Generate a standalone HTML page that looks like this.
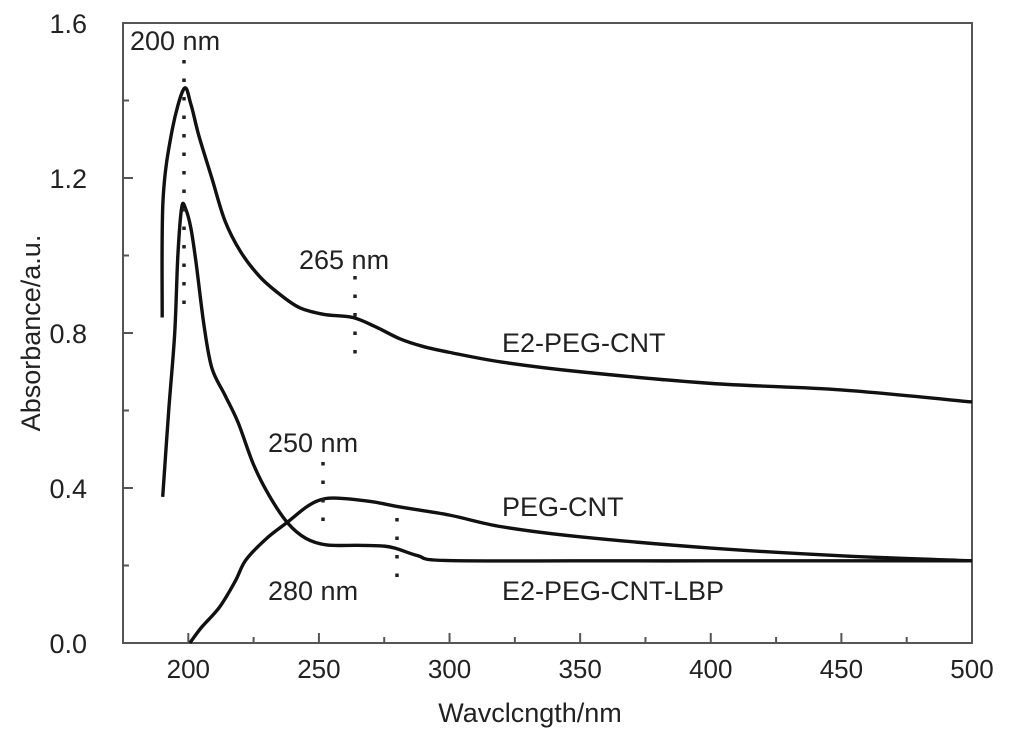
<!DOCTYPE html>
<html><head><meta charset="utf-8"><style>
body{margin:0;background:#fff}
svg{display:block;font-family:"Liberation Sans",sans-serif}
</style></head><body>
<svg id="c" width="1009" height="743" viewBox="0 0 1009 743"></svg>
<script>
const xTicks=[200,250,300,350,400,450,500];
const yTicks=[0.0,0.4,0.8,1.2,1.6];
const yTickLabels=["0.0","0.4","0.8","1.2","1.6"];
const e2pegX=[190,190.3,193.6,198.3,201,204,209,214,220,227.4,235,242.7,252,263,272,281,290,300,320,350,400,450,500];
const e2pegY=[0.84,1.14,1.316,1.43,1.39,1.31,1.2,1.09,1.01,0.945,0.9,0.865,0.848,0.84,0.815,0.785,0.765,0.75,0.725,0.70,0.67,0.653,0.622];
const lbpX=[190.2,192.5,194.8,196,197.5,199,201,203,206,209,214,219,225,231,238,245,253,265,275,280,288,298,350,400,450,500];
const lbpY=[0.377,0.6,0.8,1.0,1.125,1.12,1.07,0.98,0.82,0.71,0.64,0.57,0.46,0.38,0.31,0.27,0.253,0.252,0.25,0.243,0.225,0.213,0.212,0.212,0.212,0.212];
const pegX=[200.6,205,212,218,222,230,238,245,250,256,270,281,300,320,350,400,450,500];
const pegY=[0.0,0.04,0.093,0.16,0.214,0.27,0.312,0.35,0.368,0.374,0.365,0.351,0.33,0.3,0.274,0.245,0.225,0.212];
const X0=175,X1=500,Y0=0,Y1=1.6,L=123,R=972,T=23,B=643;
const sx=v=>L+(v-X0)/(X1-X0)*(R-L);
const sy=v=>B-(v-Y0)/(Y1-Y0)*(B-T);
const svg=document.getElementById('c');
const NS='http://www.w3.org/2000/svg';
function mk(tag,attrs,name){const e=document.createElementNS(NS,tag);for(const k in attrs)e.setAttribute(k,attrs[k]);


svg.appendChild(e);return e;}
mk('rect',{x:L,y:T,width:R-L,height:B-T,fill:'none',stroke:'#555','stroke-width':2},'plot-frame');
xTicks.forEach((t,i)=>{const x=sx(t);
mk('line',{x1:x,y1:B,x2:x,y2:B-10,stroke:'#555','stroke-width':2},'x-tick');
if(i<xTicks.length-1){const m=sx(t+25);mk('line',{x1:m,y1:B,x2:m,y2:B-6,stroke:'#555','stroke-width':2},'x-minor-tick');}
const tx=mk('text',{x:x,y:678,'font-size':26,'text-anchor':'middle',fill:'#222'},'x-tick-label');tx.textContent=t;});
yTicks.forEach((t,i)=>{const y=sy(t);
mk('line',{x1:L,y1:y,x2:L+10,y2:y,stroke:'#555','stroke-width':2},'y-tick');
if(i<yTicks.length-1){const m=sy(t+0.2);mk('line',{x1:L,y1:m,x2:L+6,y2:m,stroke:'#555','stroke-width':2},'y-minor-tick');}
const tx=mk('text',{x:87,y:y+10,'font-size':27,'text-anchor':'end',fill:'#222'},'y-tick-label');tx.textContent=yTickLabels[i];});
const xt=mk('text',{x:530,y:722,'font-size':27,'text-anchor':'middle',fill:'#222'},'x-axis-title');xt.textContent='Wavclcngth/nm';
const yt=mk('text',{x:0,y:0,'font-size':27,'text-anchor':'middle',fill:'#222',transform:'translate(40,333) rotate(-90)'},'y-axis-title');yt.textContent='Absorbance/a.u.';
function path(xs,ys){const p=xs.map((x,i)=>[sx(x),sy(ys[i])]);let d='M'+p[0][0]+','+p[0][1];
for(let i=0;i<p.length-1;i++){const a=p[Math.max(0,i-1)],b=p[i],c=p[i+1],e=p[Math.min(p.length-1,i+2)];
const c1=[b[0]+(c[0]-a[0])/6,b[1]+(c[1]-a[1])/6],c2=[c[0]-(e[0]-b[0])/6,c[1]-(e[1]-b[1])/6];
d+=` C${c1[0]},${c1[1]} ${c2[0]},${c2[1]} ${c[0]},${c[1]}`;}return d;}
mk('path',{d:path(e2pegX,e2pegY),fill:'none',stroke:'#111','stroke-width':3.4,'stroke-linejoin':'round'},'e2-peg-cnt-line');
mk('path',{d:path(lbpX,lbpY),fill:'none',stroke:'#111','stroke-width':3.4,'stroke-linejoin':'round'},'e2-peg-cnt-lbp-line');
mk('path',{d:path(pegX,pegY),fill:'none',stroke:'#111','stroke-width':3.4,'stroke-linejoin':'round'},'peg-cnt-line');
function dots(x,y1,y2){mk('line',{x1:x,y1:y1,x2:x,y2:y2,stroke:'#222','stroke-width':3.5,'stroke-dasharray':'3.5,15'},'peak-marker');}
dots(184,60,305);dots(355,276,356);dots(323,462,524);dots(397,518,582);
[['200 nm',130,50,'label-200nm'],['265 nm',299,269,'label-265nm'],['E2-PEG-CNT',502,352,'label-e2-peg-cnt'],['250 nm',268,452,'label-250nm'],['PEG-CNT',502,516,'label-peg-cnt'],['280 nm',268,600,'label-280nm'],['E2-PEG-CNT-LBP',502,600,'label-e2-peg-cnt-lbp']].forEach(a=>{
const t=mk('text',{x:a[1],y:a[2],'font-size':27,fill:'#222'},a[3]);t.textContent=a[0];});
</script>
</body></html>
